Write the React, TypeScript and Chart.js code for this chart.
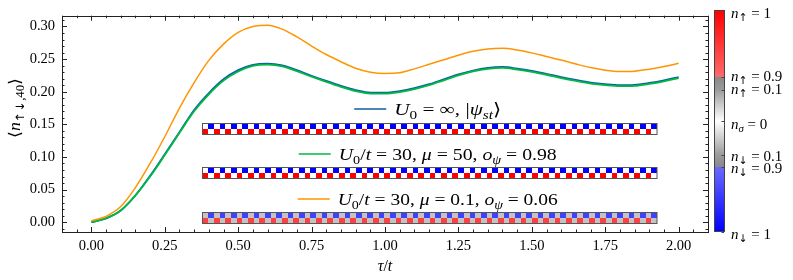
import React, { useEffect, useRef } from "react";
import { Chart, registerables } from "chart.js";

Chart.register(...registerables);

// ---------- data ----------
const tValues = [
  0, 0.05, 0.1, 0.15, 0.2, 0.25, 0.3, 0.35, 0.4, 0.45, 0.5, 0.55, 0.6, 0.65, 0.7, 0.75, 0.8, 0.85, 0.9, 0.95,
  1.0, 1.05, 1.1, 1.15, 1.2, 1.25, 1.3, 1.35, 1.4, 1.45, 1.5, 1.55, 1.6, 1.65, 1.7, 1.75, 1.8, 1.85, 1.9, 1.95, 2.0,
];
const blueValues = [
  0.0, 0.006, 0.018, 0.041, 0.071, 0.104, 0.138, 0.172, 0.198, 0.219, 0.233, 0.241, 0.243, 0.2405, 0.233, 0.2245,
  0.2165, 0.209, 0.2025, 0.1985, 0.1985, 0.201, 0.2055, 0.2115, 0.219, 0.2265, 0.2325, 0.2365, 0.238, 0.2355, 0.232,
  0.2275, 0.2225, 0.218, 0.214, 0.2115, 0.21, 0.2105, 0.2135, 0.2175, 0.2225,
];
const greenValues = [
  0.0, 0.006, 0.018, 0.041, 0.07, 0.103, 0.137, 0.17, 0.196, 0.217, 0.231, 0.2395, 0.2415, 0.239, 0.2315, 0.223,
  0.215, 0.2075, 0.201, 0.197, 0.197, 0.1995, 0.204, 0.21, 0.2175, 0.225, 0.231, 0.235, 0.2365, 0.234, 0.2305,
  0.226, 0.221, 0.2165, 0.2125, 0.21, 0.2085, 0.209, 0.212, 0.216, 0.221,
];
const orangeValues = [
  0.002, 0.009, 0.024, 0.053, 0.09, 0.131, 0.175, 0.214, 0.248, 0.273, 0.291, 0.3, 0.302, 0.296, 0.284, 0.27, 0.257,
  0.246, 0.236, 0.23, 0.228, 0.229, 0.235, 0.242, 0.249, 0.256, 0.262, 0.2655, 0.2665, 0.264, 0.2595, 0.254, 0.2485,
  0.2425, 0.237, 0.233, 0.231, 0.2315, 0.2345, 0.2385, 0.2435,
];

const xMajorTicks = [0, 0.25, 0.5, 0.75, 1.0, 1.25, 1.5, 1.75, 2.0];
const yMajorTicks = [0, 0.05, 0.1, 0.15, 0.2, 0.25, 0.3];

// occupation patterns (one period of the Neel state, repeated over the chain)
const siteCount = 80;
const neelUpPeriod = [1, 0];
const neelDownPeriod = [0, 1];
const mixedUpPeriod = [0.94, 0.06];
const mixedDownPeriod = [0.06, 0.94];

const colorbarLabels = [
  { sym: "↑", val: "1" },
  { sym: "↑", val: "0.9" },
  { sym: "↑", val: "0.1" },
  { sym: "σ", val: "0" },
  { sym: "↓", val: "0.1" },
  { sym: "↓", val: "0.9" },
  { sym: "↓", val: "1" },
];

const FONT = '"Liberation Serif", "DejaVu Serif", serif';
const ARROW_FONT = '"DejaVu Sans", "Liberation Serif", sans-serif';
const BLUE = "#0C5DA5";
const GREEN = "#00B945";
const ORANGE = "#FF9500";

type Seg = { t: string; i?: boolean; s?: boolean; a?: boolean };

function segFont(seg: Seg, size: number) {
  const sz = seg.s ? size * 0.72 : size;
  return `${seg.i ? "italic " : ""}${sz}px ${seg.a ? ARROW_FONT : FONT}`;
}
function richWidth(ctx: CanvasRenderingContext2D, segs: Seg[], size: number) {
  let w = 0;
  for (const s of segs) {
    ctx.font = segFont(s, size);
    w += ctx.measureText(s.t).width;
  }
  return w;
}
function drawRich(
  ctx: CanvasRenderingContext2D,
  segs: Seg[],
  x: number,
  y: number,
  size: number,
  align: "left" | "center",
  targetWidth?: number
) {
  const nat = richWidth(ctx, segs, size);
  const sx = targetWidth ? targetWidth / nat : 1;
  const w = nat * sx;
  const x0 = align === "center" ? x - w / 2 : x;
  ctx.save();
  ctx.translate(x0, y);
  ctx.scale(sx, 1);
  ctx.textAlign = "left";
  ctx.textBaseline = "alphabetic";
  let cx = 0;
  for (const s of segs) {
    ctx.font = segFont(s, size);
    ctx.fillText(s.t, cx, s.s ? size * 0.24 : 0);
    cx += ctx.measureText(s.t).width;
  }
  ctx.restore();
}

function lerp(a: number, b: number, f: number) {
  return a + (b - a) * f;
}
// colour of one occupation value; spin 'up' = red, 'down' = blue
function occColor(v: number, up: boolean): string {
  let r: number, g: number, b: number;
  if (v <= 0.1) {
    const f = v / 0.1;
    const c = lerp(255, 155, f);
    r = g = b = c;
  } else if (v <= 0.9) {
    const f = (v - 0.1) / 0.8;
    const c = lerp(155, 136, f);
    r = g = b = c;
  } else {
    const f = (v - 0.9) / 0.1;
    const c = lerp(106, 0, f);
    if (up) {
      r = 255; g = c; b = c;
    } else {
      r = c; g = c; b = 255;
    }
  }
  return `rgb(${Math.round(r)},${Math.round(g)},${Math.round(b)})`;
}

const legendEntries: { color: string; segs: Seg[]; width: number; up: number[]; down: number[] }[] = [
  {
    color: BLUE,
    segs: [{ t: "U", i: true }, { t: "0", s: true }, { t: " = ∞, |" }, { t: "ψ", i: true }, { t: "st", i: true, s: true }, { t: "⟩" }],
    width: 107,
    up: neelUpPeriod,
    down: neelDownPeriod,
  },
  {
    color: GREEN,
    segs: [
      { t: "U", i: true }, { t: "0", s: true }, { t: "/" }, { t: "t", i: true }, { t: " = 30, " }, { t: "μ", i: true },
      { t: " = 50, " }, { t: "o", i: true }, { t: "ψ", i: true, s: true }, { t: " = 0.98" },
    ],
    width: 218,
    up: neelUpPeriod,
    down: neelDownPeriod,
  },
  {
    color: ORANGE,
    segs: [
      { t: "U", i: true }, { t: "0", s: true }, { t: "/" }, { t: "t", i: true }, { t: " = 30, " }, { t: "μ", i: true },
      { t: " = 0.1, " }, { t: "o", i: true }, { t: "ψ", i: true, s: true }, { t: " = 0.06" },
    ],
    width: 220,
    up: mixedUpPeriod,
    down: mixedDownPeriod,
  },
];

const decorPlugin = {
  id: "decor",
  afterDraw(chart: any) {
    const ctx: CanvasRenderingContext2D = chart.ctx;
    const { left, right, top, bottom } = chart.chartArea;
    const xs = chart.scales.x;
    const ys = chart.scales.y;
    ctx.save();

    // frame
    ctx.strokeStyle = "#222";
    ctx.lineWidth = 1;
    ctx.strokeRect(Math.round(left) + 0.5, Math.round(top) + 0.5, Math.round(right - left), Math.round(bottom - top));

    // ticks (inward, all sides)
    ctx.beginPath();
    for (let k = -2; k <= 42; k++) {
      const v = k * 0.05;
      if (v < xs.min || v > xs.max) continue;
      const px = Math.round(xs.getPixelForValue(v)) + 0.5;
      const major = k % 5 === 0;
      const len = major ? 5 : 2.5;
      ctx.moveTo(px, bottom); ctx.lineTo(px, bottom - len);
      ctx.moveTo(px, top); ctx.lineTo(px, top + len);
    }
    for (let k = -2; k <= 32; k++) {
      const v = k * 0.01;
      if (v < ys.min || v > ys.max) continue;
      const py = Math.round(ys.getPixelForValue(v)) + 0.5;
      const major = k % 5 === 0;
      const len = major ? 5 : 2.5;
      ctx.moveTo(left, py); ctx.lineTo(left + len, py);
      ctx.moveTo(right, py); ctx.lineTo(right - len, py);
    }
    ctx.stroke();

    // axis titles
    ctx.fillStyle = "#000";
    drawRich(ctx, [{ t: "τ", i: true }, { t: "/" }, { t: "t", i: true }], (left + right) / 2, 271, 16, "center");
    ctx.save();
    ctx.translate(20, 108);
    ctx.rotate(-Math.PI / 2);
    drawRich(
      ctx,
      [{ t: "⟨" }, { t: "n", i: true }, { t: "↑↓", s: true, a: true }, { t: ",40", s: true }, { t: "⟩" }],
      0,
      0,
      16,
      "center",
      60
    );
    ctx.restore();

    // legend + strips
    const stripLeft = 202.5;
    const stripRight = 657;
    const lineY = [109, 154, 199];
    const stripTop = [123.5, 167.5, 212.5];
    const stripH = 11;
    const cx = (stripLeft + stripRight) / 2;
    const fs = 17.5;
    legendEntries.forEach((e, idx) => {
      const total = 32 + 8 + e.width;
      const x0 = cx - total / 2 - 2;
      ctx.strokeStyle = e.color;
      ctx.lineWidth = 1.6;
      ctx.beginPath();
      ctx.moveTo(x0, lineY[idx]);
      ctx.lineTo(x0 + 32, lineY[idx]);
      ctx.stroke();
      ctx.fillStyle = "#000";
      drawRich(ctx, e.segs, x0 + 40, lineY[idx] + 5.5, fs, "left", e.width);

      const cw = (stripRight - stripLeft) / siteCount;
      const st = stripTop[idx];
      for (let i = 0; i < siteCount; i++) {
        const u = e.up[i % e.up.length];
        const d = e.down[i % e.down.length];
        const x1 = Math.round(stripLeft + i * cw);
        const x2 = Math.round(stripLeft + (i + 1) * cw);
        ctx.fillStyle = occColor(d, false);
        ctx.fillRect(x1, st, x2 - x1, stripH / 2);
        ctx.fillStyle = occColor(u, true);
        ctx.fillRect(x1, st + stripH / 2, x2 - x1, stripH / 2);
      }
      ctx.strokeStyle = "#555";
      ctx.lineWidth = 1;
      ctx.strokeRect(stripLeft, st, stripRight - stripLeft, stripH);
    });

    // colorbar
    const cbL = 714;
    const cbR = 725;
    const cbT = 10;
    const cbB = 232;
    const stops = [
      { y: cbT, v: 1, up: true },
      { y: 77, v: 0.9, up: true },
      { y: 90, v: 0.1, up: true },
      { y: 121, v: 0, up: true },
      { y: 155, v: 0.1, up: false },
      { y: 167, v: 0.9, up: false },
      { y: cbB, v: 1, up: false },
    ];
    for (let y = cbT; y < cbB; y++) {
      let s = 0;
      while (s < stops.length - 2 && y + 0.5 > stops[s + 1].y) s++;
      const a = stops[s];
      const b = stops[s + 1];
      const f = (y + 0.5 - a.y) / (b.y - a.y);
      const v = lerp(a.v, b.v, f);
      ctx.fillStyle = occColor(v, a.up);
      ctx.fillRect(cbL, y, cbR - cbL, 1);
    }
    ctx.strokeStyle = "#444";
    ctx.lineWidth = 1;
    ctx.strokeRect(cbL + 0.5, cbT + 0.5, cbR - cbL - 1, cbB - cbT - 1);
    const labelY = [13, 76, 89, 124, 156, 168, 234];
    ctx.beginPath();
    stops.forEach((st) => {
      const yy = Math.round(st.y) + 0.5;
      ctx.moveTo(cbR - 1, yy);
      ctx.lineTo(cbR - 3.5, yy);
    });
    ctx.stroke();
    ctx.fillStyle = "#000";
    colorbarLabels.forEach((lb, i) => {
      const isSig = lb.sym === "σ";
      drawRich(
        ctx,
        [{ t: "n", i: true }, { t: lb.sym, s: true, i: isSig, a: !isSig }, { t: " = " + lb.val }],
        731,
        labelY[i] + 4.5,
        15,
        "left"
      );
    });

    ctx.restore();
  },
};

export default function App() {
  const ref = useRef<HTMLCanvasElement | null>(null);
  useEffect(() => {
    if (!ref.current) return;
    const mk = (vals: number[]) => tValues.map((t, i) => ({ x: t, y: vals[i] }));
    const common = { pointRadius: 0, cubicInterpolationMode: "monotone" as const };
    const chart = new Chart(ref.current, {
      type: "line",
      data: {
        datasets: [
          { label: "blue", data: mk(blueValues), borderColor: BLUE, borderWidth: 1.8, order: 3, ...common },
          { label: "green", data: mk(greenValues), borderColor: GREEN, borderWidth: 1.8, order: 2, ...common },
          { label: "orange", data: mk(orangeValues), borderColor: ORANGE, borderWidth: 1.5, order: 1, ...common },
        ],
      },
      options: {
        responsive: false,
        animation: false,
        devicePixelRatio: 1,
        layout: { padding: { left: 0, right: 85, top: 10, bottom: 0 } },
        plugins: { legend: { display: false }, tooltip: { enabled: false } },
        scales: {
          x: {
            type: "linear",
            min: -0.1,
            max: 2.1,
            grid: { display: false, drawTicks: false },
            border: { display: false },
            afterBuildTicks: (axis: any) => {
              axis.ticks = xMajorTicks.map((v) => ({ value: v }));
            },
            afterFit: (axis: any) => {
              axis.height = 48;
            },
            ticks: {
              padding: 5,
              color: "#000",
              font: { family: FONT, size: 14.5 },
              maxRotation: 0,
              callback: (v: any) => Number(v).toFixed(2),
            },
          },
          y: {
            min: -0.015,
            max: 0.3165,
            grid: { display: false, drawTicks: false },
            border: { display: false },
            afterBuildTicks: (axis: any) => {
              axis.ticks = yMajorTicks.map((v) => ({ value: v }));
            },
            afterFit: (axis: any) => {
              axis.width = 62;
            },
            ticks: {
              padding: 7,
              color: "#000",
              font: { family: FONT, size: 14.5 },
              callback: (v: any) => Number(v).toFixed(2),
            },
          },
        },
      },
      plugins: [decorPlugin],
    });
    return () => chart.destroy();
  }, []);
  return (
    <div style={{ position: "absolute", left: 0, top: 0, width: 793, height: 280, background: "#fff" }}>
      <canvas ref={ref} width={793} height={280} style={{ display: "block" }} />
    </div>
  );
}
